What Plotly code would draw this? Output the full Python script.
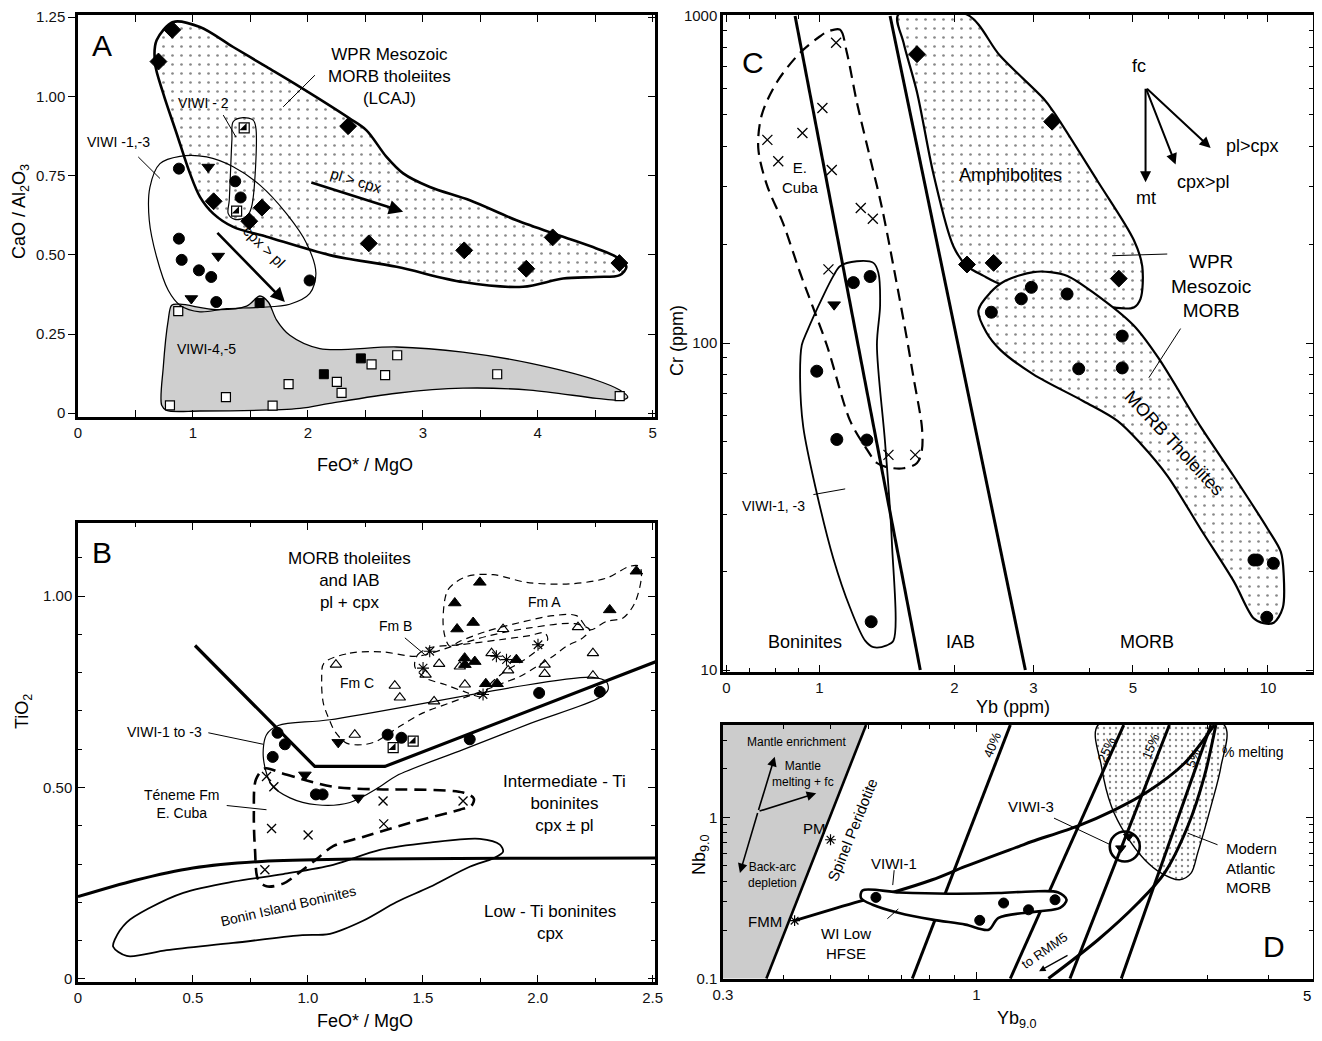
import math
import plotly.graph_objects as go

# ======================= DATA =======================
# ---------- Panel A : CaO/Al2O3 vs FeO*/MgO ----------
A_diamond_x = [0.82, 0.70, 2.35, 1.18, 1.60, 1.49, 2.53, 3.36, 3.90, 4.13, 4.71]
A_diamond_y = [1.21, 1.11, 0.906, 0.669, 0.649, 0.606, 0.536, 0.514, 0.456, 0.555, 0.474]
A_circle_x = [0.878, 1.368, 1.415, 0.878, 0.902, 1.052, 1.159, 1.203, 2.015]
A_circle_y = [0.772, 0.732, 0.681, 0.551, 0.484, 0.451, 0.430, 0.351, 0.419]
A_tri_x = [1.133, 1.22, 0.986]
A_tri_y = [0.777, 0.496, 0.362]
A_half_x = [1.446, 1.38]
A_half_y = [0.901, 0.638]
A_fsq_x = [1.58, 2.139, 2.461]
A_fsq_y = [0.348, 0.123, 0.173]
A_osq_x = [0.872, 0.80, 1.287, 1.693, 1.832, 2.252, 2.293, 2.554, 2.672, 2.777, 3.647, 4.713]
A_osq_y = [0.322, 0.025, 0.051, 0.024, 0.092, 0.099, 0.064, 0.154, 0.12, 0.183, 0.123, 0.054]

A_wpr_x = [0.684, 0.829, 1.061, 1.350, 1.641, 1.930, 2.365, 2.510, 2.684, 2.829, 3.061, 3.409, 3.815, 4.220,
           4.510, 4.684, 4.771, 4.713, 4.510, 4.220, 3.872, 3.350, 2.771, 2.191, 1.641, 1.350, 1.177, 1.061,
           0.974, 0.858, 0.742, 0.670]
A_wpr_y = [1.177, 1.235, 1.219, 1.156, 1.093, 1.030, 0.930, 0.893, 0.809, 0.757, 0.714, 0.672, 0.609, 0.557,
           0.520, 0.493, 0.462, 0.436, 0.430, 0.425, 0.399, 0.414, 0.462, 0.499, 0.557, 0.588, 0.630, 0.683,
           0.757, 0.883, 1.009, 1.104]
A_v2_x = [1.350, 1.437, 1.524, 1.548, 1.510, 1.467, 1.365, 1.307, 1.316, 1.339]
A_v2_y = [0.920, 0.933, 0.925, 0.899, 0.651, 0.620, 0.612, 0.630, 0.672, 0.862]
A_v13_x = [0.887, 1.119, 1.350, 1.583, 1.814, 1.989, 2.070, 2.017, 1.843, 1.583, 1.293, 1.061, 0.887, 0.785,
           0.684, 0.620, 0.626, 0.713]
A_v13_y = [0.811, 0.809, 0.778, 0.720, 0.630, 0.536, 0.441, 0.378, 0.344, 0.334, 0.330, 0.320, 0.341, 0.388,
           0.493, 0.609, 0.714, 0.788]
A_v45_x = [0.815, 0.887, 1.206, 1.467, 1.583, 1.655, 1.728, 1.843, 2.104, 2.771, 3.348, 3.930, 4.510, 4.713,
           4.783, 4.713, 4.510, 3.930, 3.348, 2.771, 2.191, 1.930, 1.061, 0.771, 0.728, 0.742, 0.785]
A_v45_y = [0.341, 0.344, 0.327, 0.338, 0.370, 0.351, 0.294, 0.246, 0.204, 0.209, 0.193, 0.158, 0.104, 0.073,
           0.051, 0.041, 0.047, 0.073, 0.079, 0.063, 0.031, 0.015, 0.007, 0.009, 0.025, 0.146, 0.294]
A_ticks_x = [0, 1, 2, 3, 4, 5]
A_ticks_y = [0, 0.25, 0.5, 0.75, 1.0, 1.25]
A_ticktext_y = ["0", "0.25", "0.50", "0.75", "1.00", "1.25"]

# ---------- Panel B : TiO2 vs FeO*/MgO ----------
B_bound_x = [0.509, 1.030, 1.335, 2.52]
B_bound_y = [0.871, 0.555, 0.555, 0.830]
B_low_x = [0, 0.25, 0.5, 0.8, 1.2, 2.52]
B_low_y = [0.215, 0.258, 0.290, 0.307, 0.313, 0.316]
B_bonin_x = [0.161, 0.212, 0.313, 0.458, 0.675, 0.893, 1.110, 1.313, 1.530, 1.748, 1.835, 1.849, 1.806, 1.704,
             1.530, 1.386, 1.240, 1.096, 0.965, 0.675, 0.386, 0.212, 0.153]
B_bonin_y = [0.104, 0.148, 0.186, 0.225, 0.254, 0.274, 0.298, 0.337, 0.356, 0.366, 0.351, 0.332, 0.315, 0.293,
             0.240, 0.201, 0.152, 0.118, 0.114, 0.094, 0.075, 0.060, 0.084]
B_v13_x = [0.871, 1.096, 2.240, 2.299, 2.306, 2.270, 1.965, 1.675, 1.386, 1.313, 1.183, 1.038, 0.922, 0.842,
           0.806, 0.820]
B_v13_y = [0.662, 0.677, 0.788, 0.776, 0.756, 0.735, 0.667, 0.599, 0.531, 0.502, 0.461, 0.455, 0.473, 0.507,
           0.580, 0.638]
B_ten_x = [0.813, 0.893, 1.110, 1.327, 1.386, 1.675, 1.722, 1.712, 1.661, 1.458, 1.240, 1.110, 1.038, 0.965,
           0.893, 0.820, 0.784, 0.770, 0.765, 0.774]
B_ten_y = [0.550, 0.536, 0.502, 0.495, 0.495, 0.487, 0.471, 0.453, 0.442, 0.410, 0.371, 0.347, 0.313, 0.279,
           0.249, 0.242, 0.259, 0.337, 0.434, 0.521]
B_fmA_x = [1.588, 1.610, 1.690, 1.806, 1.951, 2.139, 2.299, 2.400, 2.443, 2.451, 2.422, 2.371, 2.299, 2.226,
           2.168, 2.067, 1.922, 1.777, 1.661, 1.617, 1.596]
B_fmA_y = [0.939, 1.017, 1.051, 1.056, 1.036, 1.032, 1.047, 1.078, 1.078, 1.051, 0.982, 0.943, 0.934, 0.912,
           0.949, 0.949, 0.931, 0.908, 0.882, 0.869, 0.895]
B_fmB_x = [1.465, 1.478, 1.530, 1.661, 1.835, 1.965, 2.030, 2.043, 2.000, 1.930, 1.857, 1.791, 1.761, 1.683,
           1.596, 1.509]
B_fmB_y = [0.816, 0.847, 0.865, 0.873, 0.886, 0.897, 0.904, 0.886, 0.860, 0.829, 0.803, 0.769, 0.737, 0.750,
           0.769, 0.787]
B_fmC_x = [1.070, 1.183, 1.327, 1.473, 1.630, 1.791, 1.965, 2.161, 2.226, 2.196, 2.125, 2.067, 1.995, 1.922,
           1.849, 1.777, 1.617, 1.501, 1.400, 1.299, 1.240, 1.168, 1.117, 1.096, 1.067, 1.060]
B_fmC_y = [0.825, 0.851, 0.854, 0.843, 0.869, 0.897, 0.917, 0.928, 0.912, 0.891, 0.869, 0.843, 0.816, 0.790,
           0.773, 0.756, 0.721, 0.695, 0.660, 0.621, 0.612, 0.616, 0.647, 0.673, 0.721, 0.782]
B_circ_x = [0.868, 0.900, 0.847, 1.035, 1.064, 1.347, 1.407, 1.704, 2.006, 2.270]
B_circ_y = [0.643, 0.613, 0.580, 0.482, 0.482, 0.638, 0.630, 0.626, 0.747, 0.750]
B_tri_x = [1.132, 0.987, 1.219]
B_tri_y = [0.618, 0.533, 0.473]
B_half_x = [1.371, 1.458]
B_half_y = [0.604, 0.621]
B_cross_x = [0.820, 0.852, 1.327, 1.675, 0.842, 1.001, 1.330, 0.813]
B_cross_y = [0.529, 0.502, 0.465, 0.465, 0.393, 0.376, 0.405, 0.285]
B_otri_x = [1.122, 1.378, 1.400, 1.549, 1.204, 1.571, 1.512, 1.683, 1.661, 1.849, 2.175, 2.240, 1.871, 2.030,
            2.030, 2.240, 1.799]
B_otri_y = [0.821, 0.766, 0.735, 0.725, 0.638, 0.823, 0.795, 0.769, 0.816, 0.914, 0.919, 0.851, 0.806, 0.821,
            0.797, 0.792, 0.851]
B_ftri_x = [1.748, 1.639, 1.649, 1.719, 2.313, 2.429, 1.682, 1.726, 1.683, 1.907, 1.774, 1.823]
B_ftri_y = [1.036, 0.982, 0.914, 0.931, 0.964, 1.065, 0.838, 0.829, 0.821, 0.834, 0.771, 0.771]
B_ast_x = [1.530, 1.501, 1.762, 1.820, 1.864, 2.001]
B_ast_y = [0.856, 0.812, 0.743, 0.843, 0.834, 0.873]
B_ticks_x = [0, 0.5, 1.0, 1.5, 2.0, 2.5]
B_ticktext_x = ["0", "0.5", "1.0", "1.5", "2.0", "2.5"]
B_ticks_y = [0, 0.5, 1.0]
B_ticktext_y = ["0", "0.50", "1.00"]

# ---------- Panel C : Cr vs Yb (log) ----------
C_line1_x = [0.883, 1.679]
C_line1_y = [1000, 10]
C_line2_x = [1.438, 2.879]
C_line2_y = [1000, 10]
C_amph_x = [1.50, 2.134, 2.532, 3.163, 3.325, 4.163, 5.023, 5.245, 5.199, 5.023, 4.457, 3.566, 3.005, 2.532,
            2.324, 2.134, 1.991, 1.797, 1.651, 1.541]
C_amph_y = [1010, 1010, 754, 558, 510, 314, 206.5, 171.8, 136.5, 128.5, 128.5, 136.5, 142.9, 151.4, 160.4,
            171.8, 197.2, 328, 585, 828]
C_amph_dx = [1.651, 3.303, 2.134, 2.446, 4.651]
C_amph_dy = [764, 475, 173.8, 175.8, 157.4]
C_morb_x = [2.262, 2.405, 2.598, 3.0, 3.273, 3.573, 4.083, 5.015, 5.674, 7.077, 8.385, 9.99, 10.68, 10.84,
            10.79, 10.30, 9.78, 9.29, 8.385, 7.077, 5.973, 5.199, 4.619, 3.879, 3.0, 2.532, 2.356]
C_morb_y = [125.6, 142.6, 155, 164.8, 164.8, 160.4, 142.6, 113.3, 90.8, 55.5, 39.2, 27.0, 23.0, 19.6, 15.5,
            13.95, 13.9, 14.4, 18.7, 27.0, 39.2, 49.3, 57.8, 66.4, 80.2, 95.3, 107.9]
C_morb_cx = [2.418, 2.820, 2.969, 3.566, 4.733, 3.786, 4.733, 9.307, 9.47, 10.28, 9.94]
C_morb_cy = [124.2, 136.5, 148, 141.2, 105, 83.4, 83.9, 21.7, 21.7, 21.2, 14.5]
C_viwi_x = [1.112, 1.212, 1.320, 1.354, 1.366, 1.344, 1.402, 1.451, 1.463, 1.414, 1.320, 1.265, 1.171, 1.075,
            0.987, 0.921, 0.906, 0.914, 0.938, 1.021, 1.075]
C_viwi_y = [171.8, 177.8, 175.8, 164.0, 130.0, 98.6, 49.3, 24.7, 12.3, 11.9, 11.75, 12.3, 15.5, 21.9, 34.8,
            55.3, 78.3, 98.6, 108.2, 139.7, 160.4]
C_viwi_cx = [1.191, 1.298, 0.987, 1.094, 1.276, 1.305]
C_viwi_cy = [153, 159.7, 82, 50.7, 50.5, 14.05]
C_viwi_tx = [1.079]
C_viwi_ty = [131]
C_cuba_x = [1.046, 1.112, 1.152, 1.212, 1.298, 1.378, 1.463, 1.567, 1.622, 1.693, 1.693, 1.651, 1.541, 1.415,
            1.344, 1.265, 1.171, 1.039, 0.906, 0.831, 0.763, 0.731, 0.744, 0.804, 0.906, 1.004]
C_cuba_y = [897, 908, 772, 546, 368, 260.6, 171.8, 103.3, 78.3, 55.3, 47.1, 42.96, 41.4, 41.7, 42.96, 48.2,
            57.9, 98.6, 164, 231.7, 306, 394.6, 497.5, 627, 772, 867]
C_cross_x = [1.090, 1.016, 0.917, 0.766, 0.810, 1.066, 1.237, 1.316, 1.048, 1.426, 1.636]
C_cross_y = [828, 523, 438.6, 418, 359.6, 338, 258.8, 239.9, 167.9, 45.5, 45.5]
C_ticks_x = [0.621, 1, 2, 3, 5, 10]
C_ticktext_x = ["0", "1", "2", "3", "5", "10"]
C_minor_x = [0.7, 0.8, 0.9, 4, 6, 7, 8, 9]
C_ticks_y = [10, 100, 1000]
C_minor_y = [20, 30, 40, 50, 60, 70, 80, 90, 200, 300, 400, 500, 600, 700, 800, 900]

# ---------- Panel D : Nb9.0 vs Yb9.0 (log) ----------
D_grey_x = [0.3, 0.3, 0.592, 0.3687]
D_grey_y = [0.1, 3.74, 3.74, 0.1]
D_spinel_x = [0.592, 0.3687]
D_spinel_y = [3.74, 0.1]
D_melt_x = [0.4216, 0.5733, 0.6711, 0.811, 0.949, 1.222, 1.302, 1.622, 1.929, 2.259, 2.687, 3.096]
D_melt_y = [0.2286, 0.301, 0.342, 0.410, 0.496, 0.659, 0.708, 0.886, 1.113, 1.445, 2.166, 3.74]
D_p40_x = [1.175, 0.7376]
D_p25_x = [2.014, 1.175]
D_p15_x = [2.502, 1.560]
D_p5_x = [3.047, 1.991]
D_pct_y = [3.74, 0.1]
D_rmm_x = [1.408, 1.783, 2.155, 2.444, 2.729, 2.953, 3.120]
D_rmm_y = [0.1, 0.174, 0.294, 0.451, 0.877, 1.789, 3.74]
D_atl_x = [1.783, 1.812, 1.900, 2.024, 2.225, 2.407, 2.626, 2.773, 2.861, 3.047, 3.196, 3.246]
D_atl_y = [3.74, 2.064, 1.166, 0.798, 0.546, 0.451, 0.410, 0.451, 0.600, 1.166, 2.064, 3.74]
D_v1_x = [0.582, 0.693, 0.877, 1.111, 1.302, 1.476, 1.535, 1.488, 1.343, 1.111, 1.060, 0.949, 0.811, 0.693,
          0.6106, 0.578]
D_v1_y = [0.352, 0.342, 0.336, 0.339, 0.347, 0.342, 0.308, 0.274, 0.261, 0.2376, 0.201, 0.216, 0.232, 0.255,
          0.287, 0.316]
D_v1_cx = [0.6204, 1.016, 1.138, 1.281, 1.453]
D_v1_cy = [0.3187, 0.2296, 0.294, 0.267, 0.308]
D_v3_tx = [1.986, 2.062]
D_v3_ty = [0.644, 0.760]
D_v3_center = [2.024, 0.659]
D_ref_x = [0.5, 0.4216]       # PM, FMM
D_ref_y = [0.726, 0.2286]
D_ticks_x = [0.3, 1]
D_minor_x = [0.4, 0.5, 0.6, 0.7, 0.8, 0.9, 2, 3, 4]
D_ticks_y = [0.1, 1]
D_minor_y = [0.2, 0.3, 0.4, 0.5, 0.6, 0.7, 0.8, 0.9, 2, 3]

# ======================= FIGURE =======================
W, H = 1322, 1041          # browser window
OFF = 8                    # default page (body) margin
FW, FH = W - 2 * OFF, H - 2 * OFF
FONT = "Arial, Liberation Sans, Helvetica, sans-serif"
BOX = {'': (78, 15, 655, 417), '2': (78, 523, 655, 982), '3': (723, 15, 1313, 672), '4': (723, 725, 1313, 979)}
LOG = {'x3', 'y3', 'x4', 'y4'}
STIPPLE = dict(shape='.', size=9, solidity=0.07, fgcolor='#111', bgcolor='white')
STIPPLE2 = dict(shape='.', size=6, solidity=0.12, fgcolor='#111', bgcolor='white')

traces = []
anns = []


def dom(k):
    l, t, r, b = BOX[k]
    return [(l - OFF) / FW, (r - OFF) / FW], [1 - (b - OFF) / FH, 1 - (t - OFF) / FH]


def T(ref, v):
    return math.log10(v) if ref in LOG else v


def line(ax, xs, ys, width=1.2, dash='solid', close=False, spline=False, fill=False,
         fillcolor='rgba(0,0,0,0)', pattern=None):
    xs, ys = list(xs), list(ys)
    if close:
        xs.append(xs[0]); ys.append(ys[0])
    d = dict(x=xs, y=ys, mode='lines', xaxis='x' + ax, yaxis='y' + ax, hoverinfo='skip', showlegend=False,
             line=dict(color='black', width=width, dash=dash, shape='spline' if spline else 'linear',
                       smoothing=0.9))
    if fill:
        d['fill'] = 'toself'
        d['fillcolor'] = fillcolor
        if pattern:
            d['fillpattern'] = pattern
    traces.append(go.Scatter(**d))


def pts(ax, xs, ys, symbol, size, color='black', lw=1.0, lc='black'):
    traces.append(go.Scatter(x=xs, y=ys, mode='markers', xaxis='x' + ax, yaxis='y' + ax, hoverinfo='skip',
                             showlegend=False, cliponaxis=False,
                             marker=dict(symbol=symbol, size=size, color=color, line=dict(width=lw, color=lc))))


def half(ax, xs, ys):
    pts(ax, xs, ys, 'square', 10, color='white', lw=1.2)
    pts(ax, xs, ys, 'triangle-se', 8, color='black', lw=0)


def text(ax, x, y, s, size=16, angle=0, align='center', xanchor='center', yanchor='middle'):
    xr, yr = 'x' + ax, 'y' + ax
    anns.append(dict(xref=xr, yref=yr, x=T(xr, x), y=T(yr, y), text=s, showarrow=False, textangle=angle,
                     align=align, xanchor=xanchor, yanchor=yanchor,
                     font=dict(family=FONT, size=size, color='black')))


def arrow(ax, x0, y0, x1, y1, width=2.2, size=1.1):
    xr, yr = 'x' + ax, 'y' + ax
    anns.append(dict(xref=xr, yref=yr, axref=xr, ayref=yr, x=T(xr, x1), y=T(yr, y1), ax=T(xr, x0),
                     ay=T(yr, y0), showarrow=True, arrowhead=2, arrowsize=size, arrowwidth=width,
                     arrowcolor='black', text='', standoff=0, startstandoff=0))


def ptext(px, py, s, size=18, angle=0):
    anns.append(dict(xref='paper', yref='paper', x=(px - OFF) / FW, y=1 - (py - OFF) / FH, text=s,
                     showarrow=False, textangle=angle, xanchor='center', yanchor='middle',
                     font=dict(family=FONT, size=size, color='black')))


def mkaxis(domain, rng, tv, tt, minor=None, typ='linear', ticks='inside', mirror='allticks', anchor=None):
    a = dict(domain=domain, range=rng, type=typ, tickmode='array', tickvals=tv, ticktext=tt, ticks=ticks,
             ticklen=7, tickwidth=1.3, tickcolor='black', showline=True, linewidth=2.5, linecolor='black',
             mirror=mirror, showgrid=False, zeroline=False, anchor=anchor, automargin=False,
             ticklabeloverflow='allow',
             tickfont=dict(family=FONT, size=15, color='#111'))
    if minor:
        a['minor'] = dict(tickmode='array', tickvals=minor, ticks=ticks, ticklen=4, tickwidth=1.1,
                          tickcolor='black', showgrid=False)
    return a


# ---------------- Panel A ----------------
line('', A_v45_x, A_v45_y, width=1.3, close=True, spline=True, fill=True, fillcolor='#cfcfcf')
line('', A_wpr_x, A_wpr_y, width=2.6, close=True, spline=True, fill=True, fillcolor='white', pattern=STIPPLE)
line('', A_v13_x, A_v13_y, width=1.2, close=True, spline=True)
line('', A_v2_x, A_v2_y, width=1.2, close=True, spline=True)
line('', [2.061, 1.785], [1.067, 0.967], width=1)
line('', [1.264, 1.374], [0.941, 0.872], width=1)
line('', [0.524, 0.713], [0.809, 0.741], width=1)
pts('', A_diamond_x, A_diamond_y, 'diamond', 13)
pts('', A_circle_x, A_circle_y, 'circle', 11)
pts('', A_tri_x, A_tri_y, 'triangle-down', 11)
half('', A_half_x, A_half_y)
pts('', A_fsq_x, A_fsq_y, 'square', 9)
pts('', A_osq_x, A_osq_y, 'square', 9, color='white', lw=1.2)
arrow('', 2.017, 0.730, 2.829, 0.636, width=2.6)
arrow('', 1.2, 0.574, 1.8, 0.351, width=2.6)
text('', 0.21, 1.162, 'A', size=30)
text('', 2.713, 1.064, 'WPR Mesozoic<br>MORB tholeiites<br>(LCAJ)', size=17)
text('', 1.09, 0.978, 'VIWI - 2', size=14)
text('', 0.351, 0.857, 'VIWI -1,-3', size=14)
text('', 1.119, 0.204, 'VIWI-4,-5', size=14)
text('', 2.42, 0.735, 'pl &gt; cpx', size=15, angle=17)
text('', 1.62, 0.525, 'cpx &gt; pl', size=15, angle=45)

# ---------------- Panel B ----------------
line('2', B_low_x, B_low_y, width=3, spline=True)
line('2', B_bonin_x, B_bonin_y, width=1.8, close=True, spline=True)
line('2', B_bound_x, B_bound_y, width=3.2)
line('2', B_v13_x, B_v13_y, width=1.2, close=True, spline=True)
line('2', B_ten_x, B_ten_y, width=2.6, dash='12px,7px', close=True, spline=True)
line('2', B_fmA_x, B_fmA_y, width=1.2, dash='7px,5px', close=True, spline=True)
line('2', B_fmB_x, B_fmB_y, width=1.2, dash='7px,5px', close=True, spline=True)
line('2', B_fmC_x, B_fmC_y, width=1.2, dash='7px,5px', close=True, spline=True)
line('2', [0.567, 0.806], [0.643, 0.613], width=1)
line('2', [0.647, 0.820], [0.453, 0.442], width=1)
line('2', [1.422, 1.509], [0.891, 0.847], width=1)
pts('2', B_cross_x, B_cross_y, 'x-thin-open', 9, lw=1.3)
pts('2', B_otri_x, B_otri_y, 'triangle-up-open', 10, lw=1.1)
pts('2', B_ast_x, B_ast_y, 'asterisk-open', 10, lw=1.1)
pts('2', B_ftri_x, B_ftri_y, 'triangle-up', 11)
pts('2', B_circ_x, B_circ_y, 'circle', 11)
pts('2', B_tri_x, B_tri_y, 'triangle-down', 11)
half('2', B_half_x, B_half_y)
text('2', 0.105, 1.113, 'B', size=30)
text('2', 1.183, 1.040, 'MORB tholeiites<br>and IAB<br>pl + cpx', size=17)
text('2', 2.117, 0.458, 'Intermediate - Ti<br>boninites<br>cpx ± pl', size=17)
text('2', 2.052, 0.147, 'Low - Ti boninites<br>cpx', size=17)
text('2', 0.378, 0.645, 'VIWI-1 to -3', size=14)
text('2', 0.451, 0.458, 'Téneme Fm<br>E. Cuba', size=14)
text('2', 0.914, 0.191, 'Bonin Island Boninites', size=14, angle=-13)
text('2', 1.381, 0.921, 'Fm B', size=14)
text('2', 2.030, 0.984, 'Fm A', size=14)
text('2', 1.212, 0.773, 'Fm C', size=14)

# ---------------- Panel C ----------------
line('3', C_amph_x, C_amph_y, width=2.2, close=True, spline=True, fill=True, fillcolor='white', pattern=STIPPLE)
line('3', C_morb_x, C_morb_y, width=2.2, close=True, spline=True, fill=True, fillcolor='white', pattern=STIPPLE)
line('3', C_line1_x, C_line1_y, width=3)
line('3', C_line2_x, C_line2_y, width=3)
line('3', C_cuba_x, C_cuba_y, width=2.2, dash='12px,7px', close=True, spline=True)
line('3', C_viwi_x, C_viwi_y, width=1.8, close=True, spline=True)
line('3', [5.964, 4.495], [187.1, 184.9], width=1)
line('3', [6.386, 5.426], [110.7, 78.3], width=1)
line('3', [0.970, 1.142], [34.4, 35.8], width=1)
pts('3', C_cross_x, C_cross_y, 'x-thin-open', 10, lw=1.3)
pts('3', C_amph_dx, C_amph_dy, 'diamond', 13)
pts('3', C_morb_cx, C_morb_cy, 'circle', 12)
pts('3', C_viwi_cx, C_viwi_cy, 'circle', 12)
pts('3', C_viwi_tx, C_viwi_ty, 'triangle-down', 11)
arrow('3', 5.335, 605, 5.335, 309.9, width=2)
arrow('3', 5.335, 605, 6.225, 351.7, width=2)
arrow('3', 5.335, 605, 7.450, 394.6, width=2)
text('3', 0.712, 719, 'C', size=30)
text('3', 0.906, 320.7, 'E.<br>Cuba', size=15)
text('3', 2.666, 327.5, 'Amphibolites', size=18)
text('3', 5.154, 703, 'fc', size=18)
text('3', 5.335, 278, 'mt', size=18)
text('3', 7.197, 309.9, 'cpx&gt;pl', size=18)
text('3', 9.232, 399, 'pl&gt;cpx', size=18)
text('3', 7.45, 149.6, 'WPR<br>Mesozoic<br>MORB', size=19)
text('3', 6.17, 49.3, 'MORB Tholeiites', size=18, angle=47)
text('3', 0.79, 31.8, 'VIWI-1, -3', size=14)
text('3', 0.929, 12.2, 'Boninites', size=18)
text('3', 2.062, 12.2, 'IAB', size=18)
text('3', 5.382, 12.2, 'MORB', size=18)

# ---------------- Panel D ----------------
line('4', D_grey_x, D_grey_y, width=0, close=True, fill=True, fillcolor='#cccccc')
line('4', D_spinel_x, D_spinel_y, width=2.6)
line('4', D_atl_x, D_atl_y, width=1.4, close=True, spline=True, fill=True, fillcolor='white', pattern=STIPPLE2)
line('4', D_p40_x, D_pct_y, width=3)
line('4', D_p25_x, D_pct_y, width=3)
line('4', D_p15_x, D_pct_y, width=3)
line('4', D_p5_x, D_pct_y, width=3)
line('4', D_rmm_x, D_rmm_y, width=3, spline=True)
line('4', D_melt_x, D_melt_y, width=3, spline=True)
line('4', D_v1_x, D_v1_y, width=2.6, close=True, spline=True, fill=True, fillcolor='white')
line('4', [0.6766, 0.672], [0.47, 0.38], width=1)
line('4', [0.655, 0.69], [0.235, 0.27], width=1)
line('4', [1.446, 1.891], [0.989, 0.676], width=1)
line('4', [3.145, 2.729], [0.676, 0.798], width=1)
pts('4', D_v1_cx, D_v1_cy, 'circle', 10)
pts('4', [D_v3_center[0]], [D_v3_center[1]], 'circle-open', 30, lw=2.6)
pts('4', D_v3_tx, D_v3_ty, 'triangle-down', 9)
pts('4', D_ref_x, D_ref_y, 'asterisk-open', 9, lw=1.2)
arrow('4', 0.3544, 1.086, 0.3836, 2.379, width=1.6, size=1.2)
arrow('4', 0.3544, 1.086, 0.3251, 0.4513, width=1.6, size=1.2)
arrow('4', 0.3544, 1.086, 0.4672, 1.412, width=1.6, size=1.2)
arrow('4', 1.553, 0.141, 1.347, 0.111, width=1.3, size=1.0)
text('4', 0.4249, 2.95, 'Mantle enrichment', size=12)
text('4', 0.438, 1.859, 'Mantle<br>melting + fc', size=12)
text('4', 0.380, 0.440, 'Back-arc<br>depletion', size=12)
text('4', 0.4634, 0.857, 'PM', size=15)
text('4', 0.366, 0.226, 'FMM', size=15)
text('4', 0.5555, 0.837, 'Spinel Peridotite', size=15, angle=-68)
text('4', 0.6766, 0.5205, 'VIWI-1', size=15)
text('4', 0.538, 0.165, 'WI Low<br>HFSE', size=15)
text('4', 1.075, 2.81, '40%', size=13, angle=-68)
text('4', 1.86, 2.62, '25%', size=13, angle=-66)
text('4', 2.29, 2.745, '15%', size=13, angle=-68)
text('4', 2.80, 2.325, '5%', size=13, angle=-68)
text('4', 3.721, 2.556, '% melting', size=14)
text('4', 1.294, 1.166, 'VIWI-3', size=15)
text('4', 3.246, 0.4845, 'Modern<br>Atlantic<br>MORB', size=15, align='left', xanchor='left')
text('4', 1.381, 0.150, 'to RMM5', size=13, angle=-35)
text('4', 4.111, 0.1585, 'D', size=30)

# dummy trace for A's right-side tick axis
traces.append(go.Scatter(x=[0], y=[0], xaxis='x', yaxis='y5', mode='markers', marker=dict(opacity=0),
                         hoverinfo='skip', showlegend=False))

# axis titles
ptext(365, 465, 'FeO* / MgO')
ptext(21, 212, 'CaO / Al<sub>2</sub>O<sub>3</sub>', angle=-90)
ptext(365, 1021, 'FeO* / MgO')
ptext(23, 712, 'TiO<sub>2</sub>', angle=-90)
ptext(1013, 707, 'Yb (ppm)')
ptext(677, 340, 'Cr (ppm)', angle=-90)
ptext(1017, 1019, 'Yb<sub>9.0</sub>')
ptext(700, 855, 'Nb<sub>9.0</sub>', angle=-90)
ptext(1307, 995, '5', size=15)   # end label of the D x axis, placed at the frame corner as in the original

fig = go.Figure(traces)
xa, ya = dom('')
xb, yb = dom('2')
xc, yc = dom('3')
xd, yd = dom('4')
fig.update_layout(
    width=FW, height=FH, margin=dict(l=0, r=0, t=0, b=0, autoexpand=False), paper_bgcolor='white',
    plot_bgcolor='white', showlegend=False, annotations=anns,
    xaxis=mkaxis(xa, [0, 5.02], A_ticks_x, [str(v) for v in A_ticks_x], minor=[0.5, 1.5, 2.5, 3.5, 4.5],
                 anchor='y'),
    yaxis=mkaxis(ya, [-0.012, 1.257], A_ticks_y, A_ticktext_y, ticks='outside', mirror=True, anchor='x'),
    yaxis5=dict(overlaying='y', side='right', anchor='x', range=[-0.012, 1.257], tickmode='array',
                tickvals=A_ticks_y, ticks='inside', ticklen=7, tickwidth=1.3, tickcolor='black',
                showticklabels=False, showgrid=False, zeroline=False, showline=False, automargin=False),
    xaxis2=mkaxis(xb, [0, 2.51], B_ticks_x, B_ticktext_x, minor=[0.25, 0.75, 1.25, 1.75, 2.25], anchor='y2'),
    yaxis2=mkaxis(yb, [-0.008, 1.191], B_ticks_y, B_ticktext_y,
                  minor=[0.1, 0.2, 0.3, 0.4, 0.6, 0.7, 0.8, 0.9, 1.1], anchor='x2'),
    xaxis3=mkaxis(xc, [math.log10(0.61), math.log10(12.6)], C_ticks_x, C_ticktext_x, minor=C_minor_x,
                  typ='log', anchor='y3'),
    yaxis3=mkaxis(yc, [0.994, 3.003], C_ticks_y, [str(v) for v in C_ticks_y], minor=C_minor_y, typ='log',
                  anchor='x3'),
    xaxis4=mkaxis(xd, [math.log10(0.3), math.log10(4.95)], D_ticks_x, ["0.3", "1"], minor=D_minor_x,
                  typ='log', anchor='y4'),
    yaxis4=mkaxis(yd, [-1.003, 0.573], D_ticks_y, ["0.1", "1"], minor=D_minor_y, typ='log', anchor='x4'),
    font=dict(family=FONT, color='black'),
)
fig.write_html("out.html")
